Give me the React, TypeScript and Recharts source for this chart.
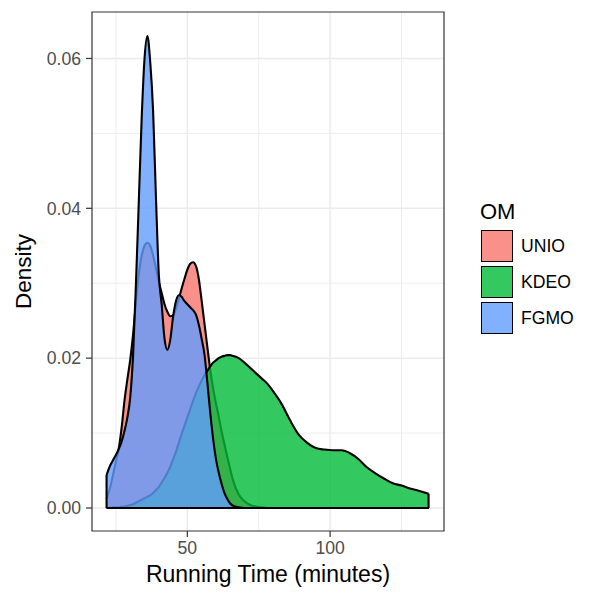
import React from "react";
import {
  ComposedChart,
  Area,
  XAxis,
  YAxis,
  CartesianGrid,
  ReferenceArea,
  ReferenceLine,
  Legend,
  Label,
} from "recharts";

// Running time (minutes) sample positions
const runningTime = [
  21.7, 23, 24, 25, 26, 27, 28, 29, 30, 31, 32, 33, 34, 35, 36, 37, 38, 39, 40, 41,
  42, 43, 44, 45, 46, 47, 48, 49, 50, 51, 52, 53, 54, 55, 56, 57, 58, 59, 60, 61,
  62, 63, 64, 65, 66, 68, 70, 72, 74, 76, 78, 80, 83, 86, 89, 92, 95, 98, 101, 104,
  107, 110, 113, 116, 119, 122, 125, 128, 131, 134.5,
];

const unio = [
  0.0012, 0.0028, 0.0045, 0.0062, 0.008, 0.0108, 0.0144, 0.0172, 0.0198, 0.0232,
  0.0275, 0.0312, 0.0337, 0.035, 0.0354, 0.035, 0.0337, 0.032, 0.0302, 0.0287,
  0.0272, 0.0262, 0.0256, 0.0257, 0.0266, 0.0279, 0.0293, 0.0306, 0.0318, 0.0326,
  0.0328, 0.0323, 0.0306, 0.0277, 0.0246, 0.0215, 0.0185, 0.016, 0.014, 0.0122,
  0.0102, 0.0085, 0.0068, 0.0052, 0.0037, 0.0018, 0.0009, 0.0004, 0.0002, 0.0001,
  0, 0, 0, 0, 0, 0, 0, 0, 0, 0,
  0, 0, 0, 0, 0, 0, 0, 0, 0, 0,
];

const kdeo = [
  0, 0, 0.0001, 0.0001, 0.0001, 0.0002, 0.0002, 0.0003, 0.0004, 0.0005,
  0.0007, 0.0009, 0.0011, 0.0013, 0.0015, 0.0017, 0.002, 0.0024, 0.0028, 0.0034,
  0.004, 0.0047, 0.0055, 0.0065, 0.0075, 0.0087, 0.0099, 0.011, 0.0121, 0.0132,
  0.0143, 0.0153, 0.0162, 0.017, 0.0177, 0.0183, 0.0189, 0.0194, 0.0197, 0.02,
  0.0202, 0.0203, 0.0204, 0.0204, 0.0203, 0.02, 0.0194, 0.0187, 0.018, 0.0173,
  0.0166, 0.0156, 0.0139, 0.0117, 0.0098, 0.0087, 0.008, 0.0078, 0.0077, 0.0077,
  0.0073, 0.0065, 0.0054, 0.0046, 0.0039, 0.0033, 0.003, 0.0026, 0.0023, 0.0019,
];

const fgmo = [
  0.0044, 0.0057, 0.0064, 0.0071, 0.0079, 0.0089, 0.0103, 0.0121, 0.0148, 0.0205,
  0.03, 0.041, 0.052, 0.06, 0.063, 0.0595, 0.053, 0.0415, 0.0312, 0.0272,
  0.0226, 0.0211, 0.0224, 0.0255, 0.0276, 0.0284, 0.0282, 0.0276, 0.0272, 0.0268,
  0.0264, 0.0258, 0.0245, 0.0226, 0.0205, 0.0168, 0.0128, 0.0093, 0.0066, 0.0047,
  0.0032, 0.002, 0.0012, 0.0006, 0.0003, 0.0001, 0, 0, 0, 0,
  0, 0, 0, 0, 0, 0, 0, 0, 0, 0,
  0, 0, 0, 0, 0, 0, 0, 0, 0, 0,
];

const seriesNames = ["UNIO", "KDEO", "FGMO"];
const seriesColors = ["#F8766D", "#00BA38", "#619CFF"];
const seriesValues = [unio, kdeo, fgmo];

const xTicks = [50, 100];
const xMinorTicks = [25, 75, 125];
const yTicks = [0, 0.02, 0.04, 0.06];
const yMinorTicks = [0.01, 0.03, 0.05];
const xDomain: [number, number] = [16.6, 139.9];
const yDomain: [number, number] = [-0.00307, 0.0662];

const data = runningTime.map((x, i) => {
  const row: Record<string, number> = { x };
  seriesNames.forEach((n, s) => {
    row[n] = seriesValues[s][i];
  });
  return row;
});

const FONT = "'Liberation Sans', Arial, Helvetica, sans-serif";
const FILL_ALPHA = 0.8;

const rgba = (hex: string, a: number) => {
  const r = parseInt(hex.slice(1, 3), 16);
  const g = parseInt(hex.slice(3, 5), 16);
  const b = parseInt(hex.slice(5, 7), 16);
  return `rgba(${r},${g},${b},${a})`;
};

const firstX = runningTime[0];
const lastX = runningTime[runningTime.length - 1];
const leftEdgeTop = Math.max(...seriesValues.map((v) => v[0]));
const rightEdgeTop = Math.max(...seriesValues.map((v) => v[v.length - 1]));

const renderLegend = () => (
  <div style={{ fontFamily: FONT, color: "#000" }}>
    <div style={{ fontSize: 22, lineHeight: "26px", height: 26 }}>OM</div>
    <div style={{ marginTop: 5 }}>
      {seriesNames.map((n, i) => (
        <div
          key={n}
          style={{ display: "flex", alignItems: "center", height: 32, marginBottom: 4 }}
        >
          <div
            style={{
              marginLeft: 1,
              width: 32,
              height: 32,
              boxSizing: "border-box",
              border: "1.8px solid #000",
              background: rgba(seriesColors[i], FILL_ALPHA),
            }}
          />
          <span style={{ marginLeft: 8, fontSize: 17.6 }}>{n}</span>
        </div>
      ))}
    </div>
  </div>
);

const YTitle = (props: any) => {
  const vb = props.viewBox || { x: 0, y: 12, width: 92, height: 519 };
  const x = vb.x + 31;
  const y = vb.y + vb.height / 2;
  return (
    <text
      x={x}
      y={y}
      transform={`rotate(-90, ${x}, ${y})`}
      textAnchor="middle"
      fontFamily={FONT}
      fontSize={22.5}
      fill="#000"
    >
      Density
    </text>
  );
};

const XTitle = (props: any) => {
  const vb = props.viewBox || { x: 92, y: 531, width: 352, height: 69 };
  return (
    <text
      x={vb.x + vb.width / 2}
      y={vb.y + 51}
      textAnchor="middle"
      fontFamily={FONT}
      fontSize={23}
      fill="#000"
    >
      Running Time (minutes)
    </text>
  );
};

export default function App() {
  return (
    <div
      style={{
        position: "absolute",
        left: 0,
        top: 0,
        width: 600,
        height: 600,
        background: "#fff",
      }}
    >
      <ComposedChart
        width={600}
        height={600}
        data={data}
        margin={{ top: 12, right: 156, bottom: 0, left: 0 }}
      >
        <CartesianGrid
          verticalValues={xMinorTicks}
          horizontalValues={yMinorTicks}
          stroke="#EBEBEB"
          strokeWidth={0.9}
        />
        <CartesianGrid
          verticalValues={xTicks}
          horizontalValues={yTicks}
          stroke="#EBEBEB"
          strokeWidth={1.5}
        />
        <XAxis
          dataKey="x"
          type="number"
          domain={xDomain}
          ticks={xTicks}
          interval={0}
          allowDataOverflow
          axisLine={false}
          tickLine={{ stroke: "#333333", strokeWidth: 1.2 }}
          tickSize={6}
          tickMargin={5}
          height={69}
          tick={{ fill: "#4D4D4D", fontSize: 17.6, fontFamily: FONT }}
        >
          <Label content={XTitle} />
        </XAxis>
        <YAxis
          type="number"
          domain={yDomain}
          ticks={yTicks}
          interval={0}
          allowDataOverflow
          width={92}
          axisLine={false}
          tickLine={{ stroke: "#333333", strokeWidth: 1.2 }}
          tickSize={6}
          tickMargin={5}
          tickFormatter={(v: number) => v.toFixed(2)}
          tick={{ fill: "#4D4D4D", fontSize: 17.6, fontFamily: FONT }}
        >
          <Label content={YTitle} />
        </YAxis>
        {seriesNames.map((n, i) => (
          <Area
            key={n}
            type="monotone"
            dataKey={n}
            name={n}
            fill={seriesColors[i]}
            fillOpacity={FILL_ALPHA}
            stroke="#000"
            strokeWidth={2.1}
            dot={false}
            activeDot={false}
            isAnimationActive={false}
          />
        ))}
        <ReferenceLine
          segment={[
            { x: firstX, y: 0 },
            { x: lastX, y: 0 },
          ]}
          stroke="#000"
          strokeWidth={2.1}
        />
        <ReferenceLine
          segment={[
            { x: firstX, y: 0 },
            { x: firstX, y: leftEdgeTop },
          ]}
          stroke="#000"
          strokeWidth={2.1}
        />
        <ReferenceLine
          segment={[
            { x: lastX, y: 0 },
            { x: lastX, y: rightEdgeTop },
          ]}
          stroke="#000"
          strokeWidth={2.1}
        />
        <ReferenceArea
          x1={xDomain[0]}
          x2={xDomain[1]}
          y1={yDomain[0]}
          y2={yDomain[1]}
          fill="none"
          fillOpacity={0}
          stroke="#333333"
          strokeWidth={1.2}
          ifOverflow="visible"
        />
        <Legend
          layout="vertical"
          align="center"
          verticalAlign="middle"
          content={renderLegend}
          wrapperStyle={{ left: 480, top: 199, width: 120 }}
        />
      </ComposedChart>
    </div>
  );
}
